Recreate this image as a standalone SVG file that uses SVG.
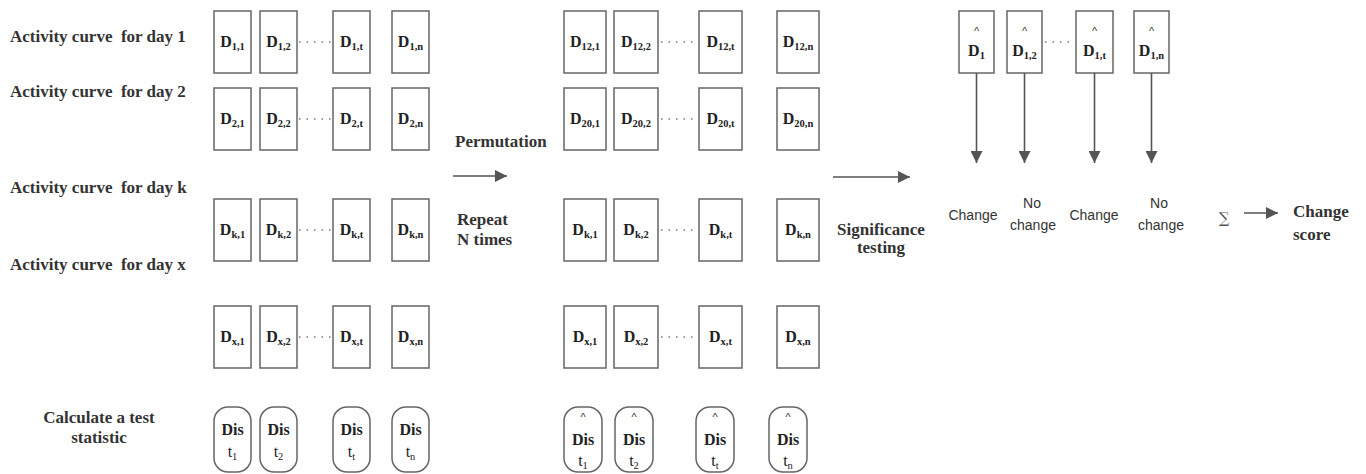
<svg xmlns="http://www.w3.org/2000/svg" width="1366" height="474" viewBox="0 0 1366 474">
<defs>
<style>
.bg{fill:#fff}
.box{fill:#fff;stroke:#666;stroke-width:1.5}
.dot{stroke:#777;stroke-width:1.4;stroke-dasharray:1.5 6;fill:none}
.ln{stroke:#555;stroke-width:1.6;fill:none}
.lbl{font-family:"Liberation Serif",serif;font-weight:bold;font-size:17px;fill:#333}
.d{font-family:"Liberation Serif",serif;font-weight:bold;font-size:16px;fill:#222;text-anchor:middle}
.sub{font-size:10.5px}
.hat{font-family:"Liberation Sans",sans-serif;font-size:11px;fill:#333;text-anchor:middle}
.cs{font-family:"Liberation Sans",sans-serif;font-size:14px;fill:#333;text-anchor:middle}
.mid{text-anchor:middle}
.tn{font-weight:normal}
</style>
<marker id="ah" viewBox="0 0 10 10" refX="10" refY="5" markerWidth="12" markerHeight="12" markerUnits="userSpaceOnUse" orient="auto">
<path d="M0,0 L10,5 L0,10 z" fill="#555"/>
</marker>
</defs>
<rect class="bg" x="0" y="0" width="1366" height="474"/>

<g id="labels">
<text class="lbl" x="10" y="42" xml:space="preserve">Activity curve  for day 1</text>
<text class="lbl" x="10" y="97" xml:space="preserve">Activity curve  for day 2</text>
<text class="lbl" x="10" y="193" xml:space="preserve">Activity curve  for day k</text>
<text class="lbl" x="10" y="270" xml:space="preserve">Activity curve  for day x</text>
<text class="lbl mid" x="99" y="423">Calculate a test</text>
<text class="lbl mid" x="99" y="443">statistic</text>
<text class="lbl" x="455" y="147">Permutation</text>
<text class="lbl" x="457" y="225">Repeat</text>
<text class="lbl" x="457" y="245">N times</text>
<text class="lbl mid" x="881" y="235">Significance</text>
<text class="lbl mid" x="881" y="253">testing</text>
<text class="lbl" x="1293" y="217">Change</text>
<text class="lbl" x="1293" y="240">score</text>
<text x="1224" y="223" style="font-family:'DejaVu Serif',serif;font-size:15px;fill:#555;text-anchor:middle">∑</text>
</g>

<g id="left-grid">
<g id="L11"><rect class="box" x="214" y="11" width="37" height="62"/><text class="d" x="232.5" y="47">D<tspan class="sub" dy="3">1,1</tspan></text></g>
<g id="L12"><rect class="box" x="260" y="11" width="37" height="62"/><text class="d" x="278.5" y="47">D<tspan class="sub" dy="3">1,2</tspan></text></g>
<g id="L1t"><rect class="box" x="333" y="11" width="37" height="62"/><text class="d" x="351.5" y="47">D<tspan class="sub" dy="3">1,t</tspan></text></g>
<g id="L1n"><rect class="box" x="392" y="11" width="37" height="62"/><text class="d" x="410.5" y="47">D<tspan class="sub" dy="3">1,n</tspan></text></g>

<g id="L21"><rect class="box" x="214" y="88" width="37" height="62"/><text class="d" x="232.5" y="124">D<tspan class="sub" dy="3">2,1</tspan></text></g>
<g id="L22"><rect class="box" x="260" y="88" width="37" height="62"/><text class="d" x="278.5" y="124">D<tspan class="sub" dy="3">2,2</tspan></text></g>
<g id="L2t"><rect class="box" x="333" y="88" width="37" height="62"/><text class="d" x="351.5" y="124">D<tspan class="sub" dy="3">2,t</tspan></text></g>
<g id="L2n"><rect class="box" x="392" y="88" width="37" height="62"/><text class="d" x="410.5" y="124">D<tspan class="sub" dy="3">2,n</tspan></text></g>

<g id="Lk1"><rect class="box" x="214" y="199" width="37" height="62"/><text class="d" x="232.5" y="235">D<tspan class="sub" dy="3">k,1</tspan></text></g>
<g id="Lk2"><rect class="box" x="260" y="199" width="37" height="62"/><text class="d" x="278.5" y="235">D<tspan class="sub" dy="3">k,2</tspan></text></g>
<g id="Lkt"><rect class="box" x="333" y="199" width="37" height="62"/><text class="d" x="351.5" y="235">D<tspan class="sub" dy="3">k,t</tspan></text></g>
<g id="Lkn"><rect class="box" x="392" y="199" width="37" height="62"/><text class="d" x="410.5" y="235">D<tspan class="sub" dy="3">k,n</tspan></text></g>

<g id="Lx1"><rect class="box" x="214" y="306" width="37" height="62"/><text class="d" x="232.5" y="342">D<tspan class="sub" dy="3">x,1</tspan></text></g>
<g id="Lx2"><rect class="box" x="260" y="306" width="37" height="62"/><text class="d" x="278.5" y="342">D<tspan class="sub" dy="3">x,2</tspan></text></g>
<g id="Lxt"><rect class="box" x="333" y="306" width="37" height="62"/><text class="d" x="351.5" y="342">D<tspan class="sub" dy="3">x,t</tspan></text></g>
<g id="Lxn"><rect class="box" x="392" y="306" width="37" height="62"/><text class="d" x="410.5" y="342">D<tspan class="sub" dy="3">x,n</tspan></text></g>
</g>

<g id="left-dis">
<g id="Ld1"><rect class="box" x="214" y="407" width="37" height="65" rx="14"/><text class="d" x="232.5" y="435">Dis</text><text class="d tn" x="232.5" y="457">t<tspan class="sub" dy="3">1</tspan></text></g>
<g id="Ld2"><rect class="box" x="260" y="407" width="37" height="65" rx="14"/><text class="d" x="278.5" y="435">Dis</text><text class="d tn" x="278.5" y="457">t<tspan class="sub" dy="3">2</tspan></text></g>
<g id="Ldt"><rect class="box" x="333" y="407" width="37" height="65" rx="14"/><text class="d" x="351.5" y="435">Dis</text><text class="d tn" x="351.5" y="457">t<tspan class="sub" dy="3">t</tspan></text></g>
<g id="Ldn"><rect class="box" x="392" y="407" width="37" height="65" rx="14"/><text class="d" x="410.5" y="435">Dis</text><text class="d tn" x="410.5" y="457">t<tspan class="sub" dy="3">n</tspan></text></g>
</g>

<g id="mid-grid">
<g id="M11"><rect class="box" x="564" y="11" width="42" height="62"/><text class="d" x="585" y="47">D<tspan class="sub" dy="3">12,1</tspan></text></g>
<g id="M12"><rect class="box" x="614" y="11" width="44" height="62"/><text class="d" x="636" y="47">D<tspan class="sub" dy="3">12,2</tspan></text></g>
<g id="M1t"><rect class="box" x="699" y="11" width="43" height="62"/><text class="d" x="720.5" y="47">D<tspan class="sub" dy="3">12,t</tspan></text></g>
<g id="M1n"><rect class="box" x="777" y="11" width="42" height="62"/><text class="d" x="798" y="47">D<tspan class="sub" dy="3">12,n</tspan></text></g>

<g id="M21"><rect class="box" x="564" y="88" width="42" height="62"/><text class="d" x="585" y="124">D<tspan class="sub" dy="3">20,1</tspan></text></g>
<g id="M22"><rect class="box" x="614" y="88" width="44" height="62"/><text class="d" x="636" y="124">D<tspan class="sub" dy="3">20,2</tspan></text></g>
<g id="M2t"><rect class="box" x="699" y="88" width="43" height="62"/><text class="d" x="720.5" y="124">D<tspan class="sub" dy="3">20,t</tspan></text></g>
<g id="M2n"><rect class="box" x="777" y="88" width="42" height="62"/><text class="d" x="798" y="124">D<tspan class="sub" dy="3">20,n</tspan></text></g>

<g id="Mk1"><rect class="box" x="564" y="199" width="42" height="62"/><text class="d" x="585" y="235">D<tspan class="sub" dy="3">k,1</tspan></text></g>
<g id="Mk2"><rect class="box" x="614" y="199" width="44" height="62"/><text class="d" x="636" y="235">D<tspan class="sub" dy="3">k,2</tspan></text></g>
<g id="Mkt"><rect class="box" x="699" y="199" width="43" height="62"/><text class="d" x="720.5" y="235">D<tspan class="sub" dy="3">k,t</tspan></text></g>
<g id="Mkn"><rect class="box" x="777" y="199" width="42" height="62"/><text class="d" x="798" y="235">D<tspan class="sub" dy="3">k,n</tspan></text></g>

<g id="Mx1"><rect class="box" x="564" y="306" width="42" height="62"/><text class="d" x="585" y="342">D<tspan class="sub" dy="3">x,1</tspan></text></g>
<g id="Mx2"><rect class="box" x="614" y="306" width="44" height="62"/><text class="d" x="636" y="342">D<tspan class="sub" dy="3">x,2</tspan></text></g>
<g id="Mxt"><rect class="box" x="699" y="306" width="43" height="62"/><text class="d" x="720.5" y="342">D<tspan class="sub" dy="3">x,t</tspan></text></g>
<g id="Mxn"><rect class="box" x="777" y="306" width="42" height="62"/><text class="d" x="798" y="342">D<tspan class="sub" dy="3">x,n</tspan></text></g>
</g>

<g id="mid-dis">
<g id="Md1"><rect class="box" x="564" y="407" width="38" height="65" rx="14"/><text class="hat" x="583" y="421">^</text><text class="d" x="583" y="445">Dis</text><text class="d tn" x="583" y="466">t<tspan class="sub" dy="3">1</tspan></text></g>
<g id="Md2"><rect class="box" x="615" y="407" width="38" height="65" rx="14"/><text class="hat" x="634" y="421">^</text><text class="d" x="634" y="445">Dis</text><text class="d tn" x="634" y="466">t<tspan class="sub" dy="3">2</tspan></text></g>
<g id="Mdt"><rect class="box" x="696" y="407" width="38" height="65" rx="14"/><text class="hat" x="715" y="421">^</text><text class="d" x="715" y="445">Dis</text><text class="d tn" x="715" y="466">t<tspan class="sub" dy="3">t</tspan></text></g>
<g id="Mdn"><rect class="box" x="769" y="407" width="38" height="65" rx="14"/><text class="hat" x="788" y="421">^</text><text class="d" x="788" y="445">Dis</text><text class="d tn" x="788" y="466">t<tspan class="sub" dy="3">n</tspan></text></g>
</g>

<g id="right-grid">
<g id="R1"><rect class="box" x="959" y="11" width="35" height="62"/><text class="hat" x="976.5" y="35">^</text><text class="d" x="976.5" y="56">D<tspan class="sub" dy="3">1</tspan></text></g>
<g id="R2"><rect class="box" x="1007" y="11" width="35" height="62"/><text class="hat" x="1024.5" y="35">^</text><text class="d" x="1024.5" y="56">D<tspan class="sub" dy="3">1,2</tspan></text></g>
<g id="Rt"><rect class="box" x="1076" y="11" width="37" height="62"/><text class="hat" x="1094.5" y="35">^</text><text class="d" x="1094.5" y="56">D<tspan class="sub" dy="3">1,t</tspan></text></g>
<g id="Rn"><rect class="box" x="1134" y="11" width="35" height="62"/><text class="hat" x="1151.5" y="35">^</text><text class="d" x="1151.5" y="56">D<tspan class="sub" dy="3">1,n</tspan></text></g>
</g>

<g id="outcomes">
<text class="cs" x="973" y="220">Change</text>
<text class="cs" x="1032" y="208">No</text>
<text class="cs" x="1033" y="230">change</text>
<text class="cs" x="1094" y="220">Change</text>
<text class="cs" x="1159" y="208">No</text>
<text class="cs" x="1161" y="230">change</text>
</g>

<g id="connectors">
<line class="dot" x1="299" y1="42" x2="332" y2="42"/>
<line class="dot" x1="299" y1="119" x2="332" y2="119"/>
<line class="dot" x1="299" y1="230" x2="332" y2="230"/>
<line class="dot" x1="299" y1="337" x2="332" y2="337"/>
<line class="dot" x1="661" y1="42" x2="698" y2="42"/>
<line class="dot" x1="661" y1="119" x2="698" y2="119"/>
<line class="dot" x1="661" y1="230" x2="698" y2="230"/>
<line class="dot" x1="661" y1="337" x2="698" y2="337"/>
<line class="dot" x1="1045" y1="42" x2="1075" y2="42"/>
<line class="ln" x1="453" y1="176" x2="507" y2="176" marker-end="url(#ah)"/>
<line class="ln" x1="833" y1="177" x2="910" y2="177" marker-end="url(#ah)"/>
<line class="ln" x1="1244" y1="213" x2="1278" y2="213" marker-end="url(#ah)"/>
<line class="ln" x1="976.5" y1="73" x2="976.5" y2="163" marker-end="url(#ah)"/>
<line class="ln" x1="1024.5" y1="73" x2="1024.5" y2="163" marker-end="url(#ah)"/>
<line class="ln" x1="1094.5" y1="73" x2="1094.5" y2="163" marker-end="url(#ah)"/>
<line class="ln" x1="1151.5" y1="73" x2="1151.5" y2="163" marker-end="url(#ah)"/>
</g>
</svg>
